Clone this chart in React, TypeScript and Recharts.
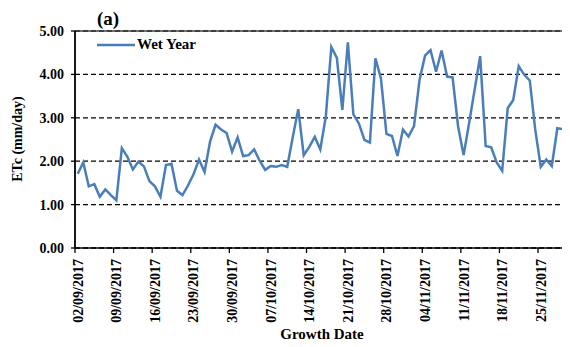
import { CartesianGrid, Legend, Line, LineChart, ReferenceLine, XAxis, YAxis } from "recharts"

// daily crop evapotranspiration (mm/day), 02/09/2017 onwards
const etcWetYear = [
  1.71, 1.97, 1.42, 1.47, 1.18, 1.35, 1.22, 1.1, 2.3, 2.1,
  1.81, 1.99, 1.88, 1.54, 1.42, 1.18, 1.91, 1.94, 1.32, 1.22,
  1.44, 1.7, 2.04, 1.75, 2.45, 2.84, 2.73, 2.65, 2.22, 2.55,
  2.12, 2.14, 2.27, 2.01, 1.8, 1.89, 1.87, 1.91, 1.87, 2.55,
  3.2, 2.14, 2.33, 2.56, 2.27, 3.03, 4.63, 4.38, 3.18, 4.74,
  3.08, 2.87, 2.49, 2.43, 4.37, 3.91, 2.63, 2.58, 2.12, 2.73,
  2.57, 2.81, 3.87, 4.43, 4.56, 4.06, 4.55, 3.95, 3.93, 2.8,
  2.14, 2.88, 3.65, 4.42, 2.35, 2.32, 1.97, 1.78, 3.22, 3.41,
  4.19, 3.99, 3.86, 2.72, 1.87, 2.04, 1.89, 2.76, 2.74, 2.99,
]

const weekLabels = [
  "02/09/2017", "09/09/2017", "16/09/2017", "23/09/2017", "30/09/2017",
  "07/10/2017", "14/10/2017", "21/10/2017", "28/10/2017", "04/11/2017",
  "11/11/2017", "18/11/2017", "25/11/2017",
]

const yTicks = [0, 1, 2, 3, 4, 5]

const seriesName = "Wet Year"

const data = etcWetYear.map((etc, day) => ({ day, etc }))

// tick marks sit between days, labels centred on the day itself
const weekTicks = weekLabels.map((_, i) => i * 7 - 0.5)

const FONT = '"Liberation Serif", "Times New Roman", serif'
const LINE_COLOR = "#4A7EBB"

function DateTick(props: any) {
  const { x, y, payload } = props
  const label = weekLabels[Math.round((payload.value + 0.5) / 7)]
  const cx = x + 2.8
  return (
    <text
      x={cx}
      y={y}
      transform={`rotate(-90, ${cx}, ${y})`}
      textAnchor="end"
      dy="0.35em"
      fontFamily={FONT}
      fontWeight="bold"
      fontSize={14}
      fill="#000"
    >
      {label}
    </text>
  )
}

function LegendContent() {
  return (
    <div style={{ display: "flex", alignItems: "center", fontFamily: FONT, fontWeight: "bold", fontSize: 15 }}>
      <svg width={40} height={10}>
        <line x1={1} y1={5} x2={39} y2={5} stroke={LINE_COLOR} strokeWidth={2.5} />
      </svg>
      <span style={{ marginLeft: 1 }}>{seriesName}</span>
    </div>
  )
}

export default function App() {
  return (
    // wrapper is a little shorter than the chart so the page doesn't scroll
    <div style={{ width: 562, height: 331, overflow: "visible" }}>
      <LineChart width={562} height={339} data={data} margin={{ top: 23, right: 0, left: 0, bottom: 0 }}>
        <CartesianGrid vertical={false} stroke="#000" strokeWidth={1.3} strokeDasharray="5 3" />
        <XAxis
          dataKey="day"
          type="number"
          domain={[-0.5, 89.3]}
          ticks={weekTicks}
          interval={0}
          height={99}
          tick={<DateTick />}
          tickSize={5}
          tickMargin={6}
          axisLine={{ stroke: "#000", strokeWidth: 1.5 }}
          tickLine={{ stroke: "#000", strokeWidth: 1.3 }}
        />
        <YAxis
          type="number"
          domain={[0, 5]}
          ticks={yTicks}
          width={67}
          tickSize={4}
          tickMargin={7}
          tickFormatter={(v: number) => v.toFixed(2)}
          tick={{ fontFamily: FONT, fontWeight: "bold", fontSize: 14, fill: "#000" }}
          axisLine={{ stroke: "#000", strokeWidth: 1.8 }}
          tickLine={{ stroke: "#000", strokeWidth: 1.3 }}
        />
        <ReferenceLine y={5} stroke="#404040" strokeWidth={1.6} />
        <Legend
          layout="vertical"
          align="center"
          verticalAlign="middle"
          wrapperStyle={{ top: 28, left: 88, width: "auto" }}
          content={<LegendContent />}
        />
        <Line
          type="linear"
          dataKey="etc"
          name={seriesName}
          stroke={LINE_COLOR}
          strokeWidth={2.5}
          dot={false}
          isAnimationActive={false}
        />
        <text x={89} y={17} fontFamily={FONT} fontWeight="bold" fontSize={19} fill="#000">
          (a)
        </text>
        <text
          x={14}
          y={131}
          transform="rotate(-90, 14, 131)"
          textAnchor="middle"
          fontFamily={FONT}
          fontWeight="bold"
          fontSize={14}
          fill="#000"
        >
          ETc (mm/day)
        </text>
        <text x={314} y={331} textAnchor="middle" fontFamily={FONT} fontWeight="bold" fontSize={15} fill="#000">
          Growth Date
        </text>
      </LineChart>
    </div>
  )
}
